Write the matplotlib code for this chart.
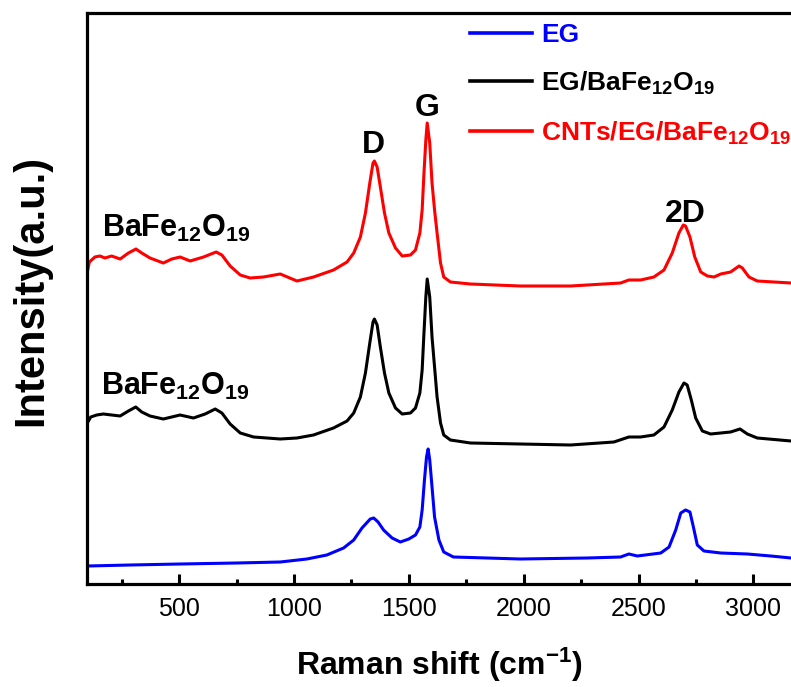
import matplotlib
matplotlib.use("Agg")
import matplotlib.pyplot as plt
from matplotlib.ticker import MultipleLocator

plt.rcParams['font.family'] = ['Liberation Sans', 'DejaVu Sans']
plt.rcParams['mathtext.fontset'] = 'custom'
plt.rcParams['mathtext.rm'] = 'Liberation Sans:bold'
plt.rcParams['mathtext.it'] = 'Liberation Sans:bold'
plt.rcParams['mathtext.bf'] = 'Liberation Sans:bold'

# Raman shift (cm^-1) and intensity (a.u.)
eg_x = [100, 286, 504, 751, 940, 1056, 1143, 1216, 1260, 1296, 1332, 1347, 1366,
        1390, 1427, 1463, 1500, 1529, 1548, 1558, 1568, 1577, 1584, 1591, 1601,
        1612, 1631, 1652, 1694, 1986, 2277, 2422, 2458, 2495, 2597, 2633, 2662,
        2684, 2705, 2724, 2739, 2756, 2785, 2858, 2974, 3076, 3164]
eg_y = [18, 19, 20, 21, 22, 25, 29, 36, 44, 56, 65, 66, 62,
        54, 46, 42, 45, 49, 57, 74, 104, 127, 135, 124, 97,
        67, 44, 32, 27, 25, 26, 27, 30, 28, 31, 37, 54,
        71, 74, 72, 57, 39, 33, 31, 30, 28, 26]

ebf_x = [100, 115, 141, 170, 206, 243, 279, 311, 337, 373, 431, 504, 562, 613,
         657, 686, 722, 766, 824, 940, 1013, 1085, 1172, 1231, 1260, 1289, 1311,
         1330, 1344, 1350, 1362, 1376, 1394, 1413, 1442, 1471, 1507, 1529, 1548,
         1558, 1565, 1574, 1580, 1591, 1601, 1612, 1623, 1638, 1652, 1681, 1768,
         1986, 2204, 2393, 2458, 2509, 2567, 2611, 2647, 2676, 2698, 2712, 2730,
         2749, 2778, 2814, 2858, 2901, 2942, 2974, 3017, 3164]
ebf_y = [161, 167, 169, 170, 169, 168, 173, 177, 172, 168, 165, 169, 166, 170,
         175, 171, 160, 151, 147, 145, 146, 149, 156, 163, 171, 187, 211,
         241, 262, 265, 259, 237, 211, 191, 176, 170, 171, 176, 191,
         214, 247, 287, 305, 287, 247, 217, 187, 161, 149, 144, 141,
         140, 139, 142, 147, 147, 149, 157, 174, 192, 201, 199, 184,
         166, 153, 150, 151, 152, 155, 150, 146, 143]

cnt_x = [100, 109, 133, 155, 177, 206, 243, 279, 312, 337, 373, 431, 468, 504,
         548, 606, 661, 686, 722, 766, 809, 867, 940, 1013, 1085, 1172, 1231,
         1260, 1289, 1311, 1330, 1344, 1350, 1362, 1376, 1394, 1413, 1442, 1471,
         1507, 1529, 1548, 1558, 1565, 1574, 1580, 1591, 1601, 1612, 1623, 1638,
         1652, 1681, 1768, 1986, 2204, 2422, 2458, 2509, 2567, 2611, 2647, 2676,
         2695, 2705, 2724, 2745, 2771, 2800, 2829, 2858, 2901, 2938, 2952, 2981,
         3017, 3090, 3164]
cnt_y = [312, 322, 327, 328, 326, 328, 325, 331, 335, 331, 326, 321, 325, 327,
         323, 327, 332, 329, 318, 309, 306, 307, 310, 303, 307, 314, 322,
         331, 347, 371, 401, 421, 423, 417, 397, 371, 351, 336, 328,
         329, 334, 351, 374, 407, 444, 461, 441, 401, 374, 351, 321,
         307, 302, 300, 298, 298, 301, 304, 304, 307, 314, 331, 351,
         359, 358, 347, 327, 312, 308, 307, 310, 312, 318, 316, 307,
         303, 302, 301]

series_labels = ['EG', r'EG/BaFe$_{12}$O$_{19}$', r'CNTs/EG/BaFe$_{12}$O$_{19}$']
series_colors = ['#0000ff', '#000000', '#ff0000']

W, H = 791, 687
fig = plt.figure(figsize=(W / 100, H / 100), dpi=100)
ax_left, ax_bottom, ax_top = 87.3, 584, 13
ax = fig.add_axes([ax_left / W, 1 - ax_bottom / H, 1 - ax_left / W, (ax_bottom - ax_top) / H])
axw, axh = W - ax_left, ax_bottom - ax_top

lw = 2.2
ax.plot(eg_x, eg_y, color=series_colors[0], lw=lw, label=series_labels[0], solid_joinstyle='round')
ax.plot(ebf_x, ebf_y, color=series_colors[1], lw=lw, label=series_labels[1], solid_joinstyle='round')
ax.plot(cnt_x, cnt_y, color=series_colors[2], lw=lw, label=series_labels[2], solid_joinstyle='round')

ax.set_xlim(100, 3164)
ax.set_ylim(0, 571)

ax.set_xticks([500, 1000, 1500, 2000, 2500, 3000])
ax.xaxis.set_minor_locator(MultipleLocator(250))
ax.tick_params(axis='x', which='major', direction='in', length=7.5, width=2.2,
               labelsize=18, pad=9, top=False)
ax.tick_params(axis='x', which='minor', direction='in', length=3.8, width=2.2, top=False)
ax.set_yticks([])

for s in ['left', 'bottom', 'top']:
    ax.spines[s].set_linewidth(2.3)
ax.spines['right'].set_visible(False)

ax.set_xlabel(r'Raman shift (cm$^{\mathbf{-1}}$)', fontsize=23, fontweight='bold')
ax.xaxis.label.set_va('baseline')
ax.xaxis.set_label_coords((439 - ax_left) / axw, -(675 - ax_bottom) / axh)
ax.set_ylabel('Intensity(a.u.)', fontsize=30, fontweight='bold')
ax.yaxis.label.set_va('center')
ax.yaxis.set_label_coords(-(ax_left - 31) / axw, (ax_bottom - 290) / axh)

# peak labels
ax.text(1348, 431, 'D', fontsize=23, fontweight='bold', ha='center', va='baseline')
ax.text(1581, 468, 'G', fontsize=23, fontweight='bold', ha='center', va='baseline')
ax.text(2705, 362, '2D', fontsize=23, fontweight='bold', ha='center', va='baseline')
ax.text(165, 347, r'BaFe$_{12}$O$_{19}$', fontsize=22, fontweight='bold', ha='left', va='baseline')
ax.text(158, 189, r'BaFe$_{12}$O$_{19}$', fontsize=22, fontweight='bold', ha='left', va='baseline')

leg = ax.legend(loc='upper left', bbox_to_anchor=((470 - ax_left) / axw, 0.982),
                frameon=False, borderaxespad=0, borderpad=0,
                handlelength=2.35, handletextpad=0.35, labelspacing=0.85,
                labelcolor='linecolor', prop={'weight': 'bold', 'size': 19})
for line in leg.get_lines():
    line.set_linewidth(2.6)

fig.savefig('out.png', dpi=100)
